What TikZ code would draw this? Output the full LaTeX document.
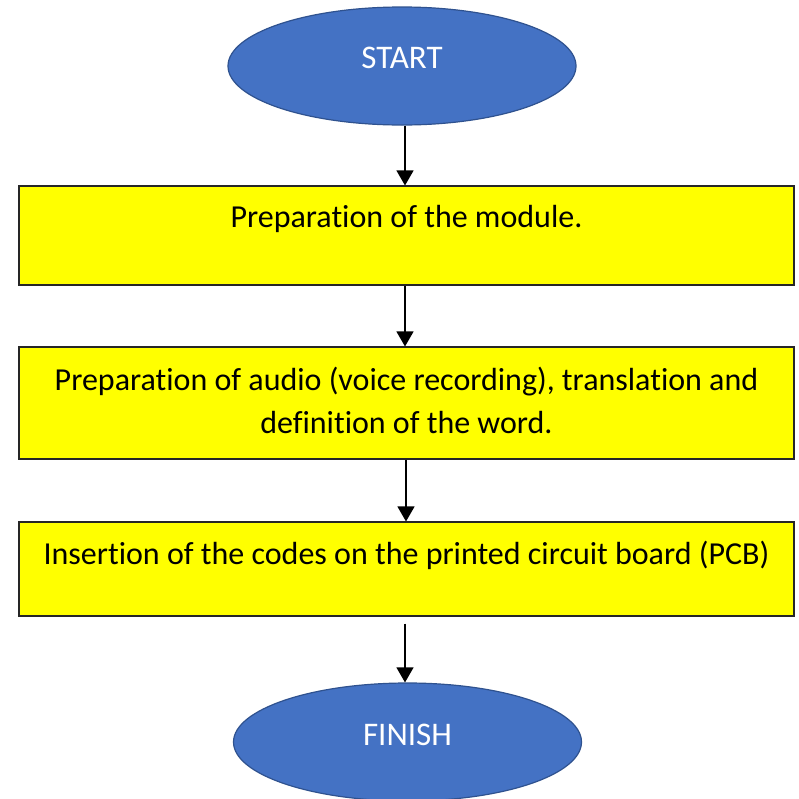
\documentclass[tikz,border=0pt]{standalone}
\usepackage{fontspec}
\setmainfont{Carlito}[Ligatures=CommonOff]
\usetikzlibrary{shapes.geometric,arrows.meta}
\definecolor{ovalfill}{HTML}{4472C4}
\definecolor{ovaldraw}{HTML}{2F528F}
\definecolor{boxfill}{HTML}{FFFF00}
\tikzset{
  x=1pt,y=-1pt,
  oval/.style={ellipse,fill=ovalfill,draw=ovaldraw,line width=1.2pt,minimum width=348pt,minimum height=118pt,inner sep=0pt},
  procbox/.style={rectangle,fill=boxfill,draw=black!85,line width=1.1pt,minimum width=775pt,inner sep=0pt},
  ovaltext/.style={text=white,font=\fontsize{33}{39}\selectfont},
  boxtext/.style={text=black,font=\fontsize{32}{43}\selectfont,align=center},
  flow/.style={draw=black,line width=1.2pt,-{Triangle[width=17pt,length=15pt]}}
}
\begin{document}
\begin{tikzpicture}
\useasboundingbox[fill=white] (0,0) rectangle (799,798);
\node[oval] (s) at (402,66) {};
\node[ovaltext] (st) at (402,58) {START};
\node[procbox,minimum height=99pt] (b1) at (406.5,235.5) {};
\node[boxtext] (t1) at (406.5,219) {Preparation of the module.};
\node[procbox,minimum height=112pt] (b2) at (406.5,403) {};
\node[boxtext] (t2) at (406.5,400.5) {Preparation of audio (voice recording), translation and\\definition of the word.};
\node[procbox,minimum height=94pt] (b3) at (406.5,569) {};
\node[boxtext] (t3) at (406.5,555) {Insertion of the codes on the printed circuit board (PCB)};
\node[oval] (f) at (407.5,742) {};
\node[ovaltext] (ft) at (407.5,735) {FINISH};
\draw[flow] (s.south -| 405,0) -- (b1.north -| 405,0);
\draw[flow] (b1.south -| 405,0) -- (b2.north -| 405,0);
\draw[flow] (b2.south -| 406,0) -- (b3.north -| 406,0);
\draw[flow,shorten <=7pt] (b3.south -| 405,0) -- (f.north -| 405,0);
\end{tikzpicture}
\end{document}
